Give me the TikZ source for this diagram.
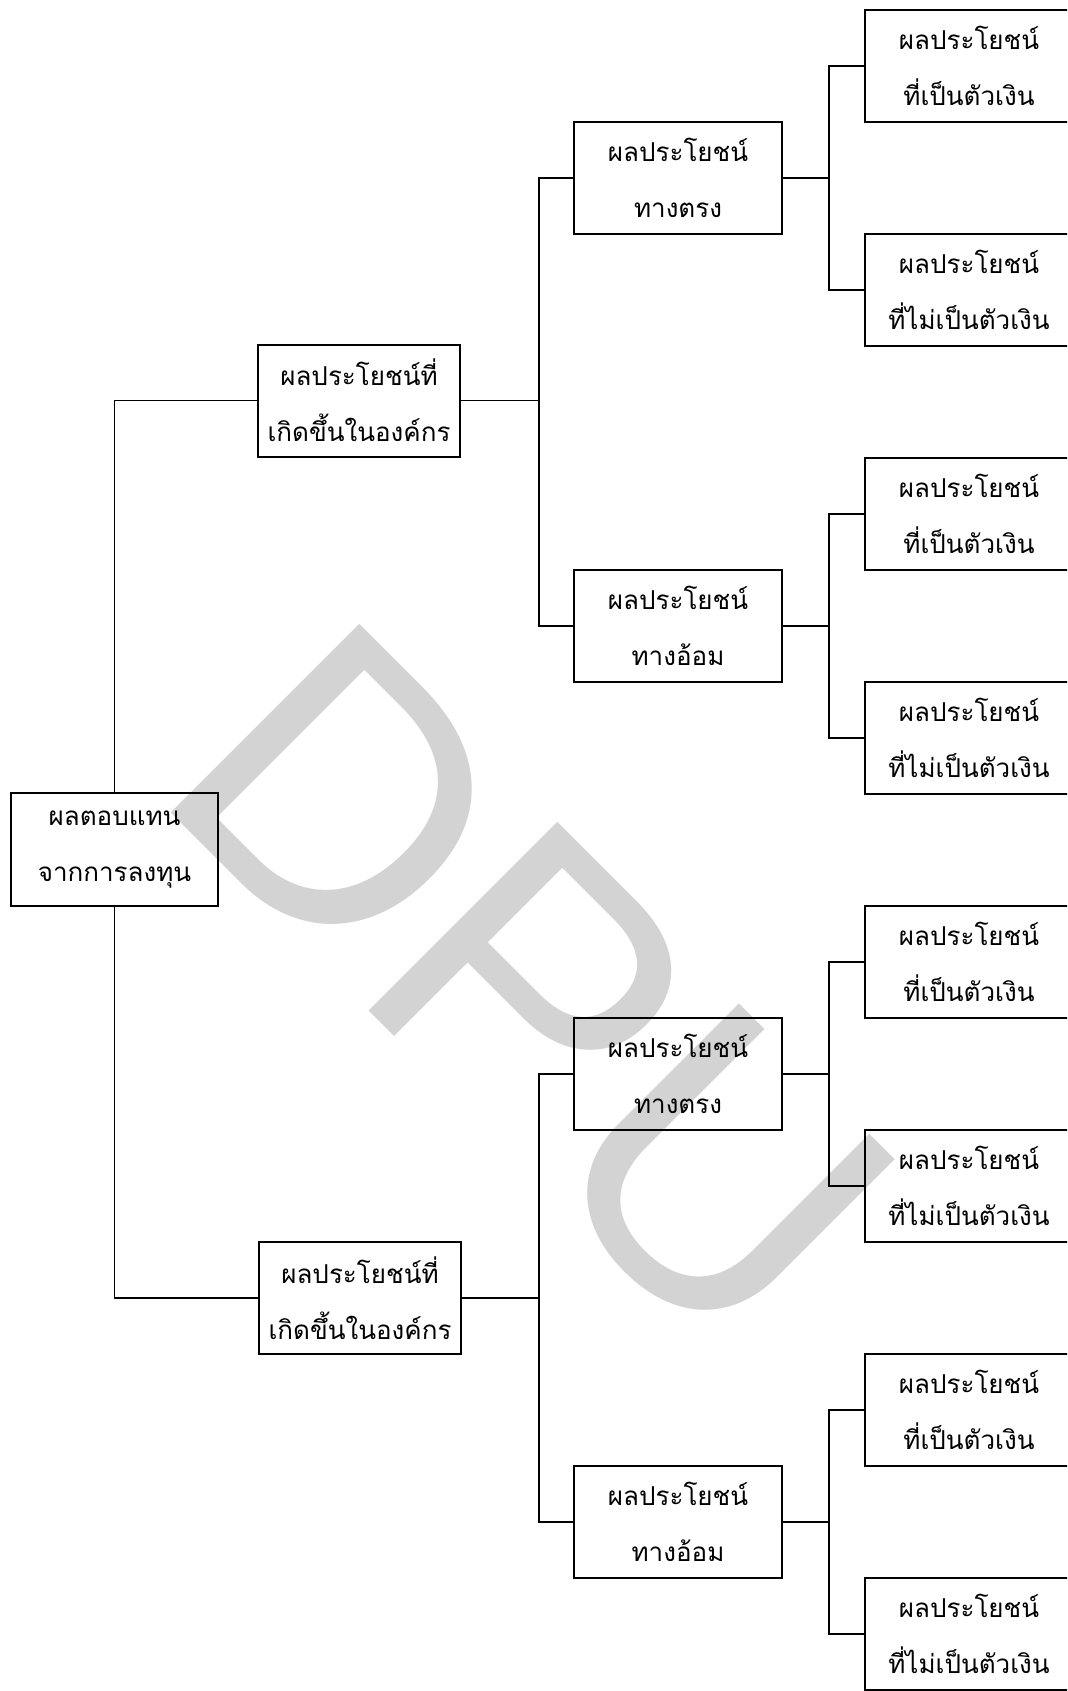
\documentclass[tikz,border=0pt]{standalone}
\usepackage{fontspec}
\newfontfamily\thaifont[Script=Thai]{Loma}
\newfontfamily\wmfont{Liberation Sans}
\definecolor{wmgray}{RGB}{211,211,211}
\begin{document}
\begin{tikzpicture}[x=0.5pt,y=-0.5pt,
  box/.style={draw=black, line width=1pt, align=center, inner sep=0pt,
    font=\thaifont\fontsize{13}{28}\selectfont},
  rootbox/.style={box, minimum width=103.5pt, minimum height=56.5pt},
  midbox/.style={box, minimum width=101pt, minimum height=56pt},
  twobox/.style={box, minimum width=104pt, minimum height=56pt},
  leafbox/.style={box, minimum width=104pt, minimum height=56pt},
  link/.style={draw=black, line width=0.8pt}]
\useasboundingbox (0,0) rectangle (1067,1691);
\clip (0,0) rectangle (1067,1691);
\fill[white] (0,0) rectangle (1067,1691);

% watermark
\node[rotate=-45, anchor=base west, text=wmgray, inner sep=0pt,
  font=\wmfont\fontsize{194}{194}\selectfont] (wm) at (148,790) {DPU};

% nodes
\node[rootbox] (root) at (114.5,849.5) {ผลตอบแทน\\จากการลงทุน};
\node[midbox] (a1) at (359,400.5) {ผลประโยชน์ที่\\เกิดขึ้นในองค์กร};
\node[midbox] (a2) at (360,1298) {ผลประโยชน์ที่\\เกิดขึ้นในองค์กร};
\node[twobox] (b1) at (678,178) {ผลประโยชน์\\ทางตรง};
\node[twobox] (b2) at (678,626) {ผลประโยชน์\\ทางอ้อม};
\node[twobox] (b3) at (678,1074) {ผลประโยชน์\\ทางตรง};
\node[twobox] (b4) at (678,1522) {ผลประโยชน์\\ทางอ้อม};
\node[leafbox] (c1) at (969,66) {ผลประโยชน์\\ที่เป็นตัวเงิน};
\node[leafbox] (c2) at (969,290) {ผลประโยชน์\\ที่ไม่เป็นตัวเงิน};
\node[leafbox] (c3) at (969,514) {ผลประโยชน์\\ที่เป็นตัวเงิน};
\node[leafbox] (c4) at (969,738) {ผลประโยชน์\\ที่ไม่เป็นตัวเงิน};
\node[leafbox] (c5) at (969,962) {ผลประโยชน์\\ที่เป็นตัวเงิน};
\node[leafbox] (c6) at (969,1186) {ผลประโยชน์\\ที่ไม่เป็นตัวเงิน};
\node[leafbox] (c7) at (969,1410) {ผลประโยชน์\\ที่เป็นตัวเงิน};
\node[leafbox] (c8) at (969,1634) {ผลประโยชน์\\ที่ไม่เป็นตัวเงิน};

% junctions
\coordinate (j1) at (539,400.5);
\coordinate (j2) at (539,1298);
\coordinate (k1) at (829,178);
\coordinate (k2) at (829,626);
\coordinate (k3) at (829,1074);
\coordinate (k4) at (829,1522);

% connectors
\draw[link] (root.north) |- (a1.west);
\draw[link] (root.south) |- (a2.west);
\draw[link] (a1.east) -- (j1);
\draw[link] (a2.east) -- (j2);
\draw[link] (b1.west) -| (j1) |- (b2.west);
\draw[link] (b3.west) -| (j2) |- (b4.west);
\draw[link] (b1.east) -- (k1);
\draw[link] (b2.east) -- (k2);
\draw[link] (b3.east) -- (k3);
\draw[link] (b4.east) -- (k4);
\draw[link] (c1.west) -| (k1) |- (c2.west);
\draw[link] (c3.west) -| (k2) |- (c4.west);
\draw[link] (c5.west) -| (k3) |- (c6.west);
\draw[link] (c7.west) -| (k4) |- (c8.west);
\end{tikzpicture}
\end{document}
